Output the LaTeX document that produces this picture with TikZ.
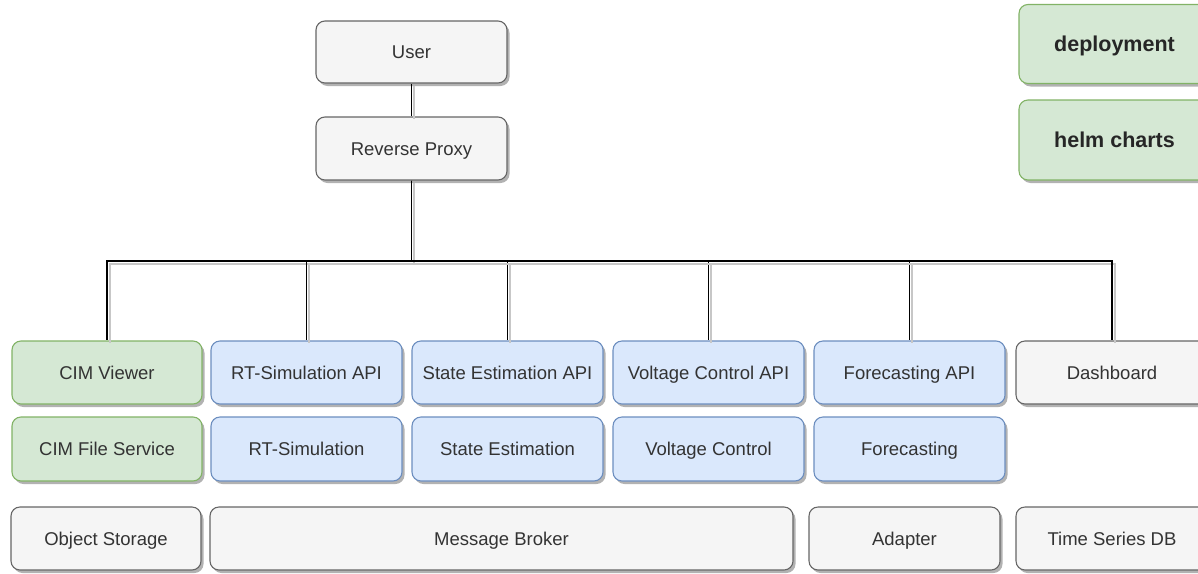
\documentclass[tikz,border=0pt]{standalone}
\usepackage{fontspec}
\setmainfont{Liberation Sans}
\usetikzlibrary{shadows}
\definecolor{grayfill}{HTML}{F5F5F5}
\definecolor{graydraw}{HTML}{666666}
\definecolor{bluefill}{HTML}{DAE8FC}
\definecolor{bluedraw}{HTML}{6C8EBF}
\definecolor{greenfill}{HTML}{D5E8D4}
\definecolor{greendraw}{HTML}{82B366}
\definecolor{txt}{HTML}{333333}
\tikzset{
  box/.style={rectangle, rounded corners=9pt, line width=1.1pt, text=txt,
    font=\fontsize{18.5}{22}\selectfont, inner sep=0pt, text height=13.3pt, text depth=0pt,
    drop shadow={shadow xshift=2.5pt, shadow yshift=-3pt, fill=black, opacity=0.3}},
  graybox/.style={box, fill=grayfill, draw=graydraw},
  bluebox/.style={box, fill=bluefill, draw=bluedraw},
  greenbox/.style={box, fill=greenfill, draw=greendraw},
  boldbox/.style={greenbox, font=\fontsize{21.5}{25}\selectfont\bfseries, text=black!85, text height=15.5pt},
  edge/.style={draw=black, line width=1.3pt,
    preaction={draw=black!22, line width=2pt, transform canvas={shift={(2.5pt,-2.5pt)}}}},
}
\begin{document}
\begin{tikzpicture}[x=1pt,y=-1pt]
\useasboundingbox (0,0) rectangle (1198,573);
\clip (0,0) rectangle (1198,573);
\fill[white] (0,0) rectangle (1198,573);
% top
\node[graybox, minimum width=191pt, minimum height=62pt] (user) at (411.5,52) {User};
\node[graybox, minimum width=191pt, minimum height=63pt] (proxy) at (411.5,148.5) {Reverse Proxy};
\node[boldbox, minimum width=191pt, minimum height=79pt] (deploy) at (1114.5,44) {deployment};
\node[boldbox, minimum width=191pt, minimum height=80pt] (helm) at (1114.5,140) {helm charts};
% row 1
\node[greenbox, minimum width=190pt, minimum height=63pt] (cimv) at (107,372.5) {CIM Viewer};
\node[bluebox, minimum width=191pt, minimum height=63pt] (rtapi) at (306.5,372.5) {RT-Simulation API};
\node[bluebox, minimum width=191pt, minimum height=63pt] (seapi) at (507.5,372.5) {State Estimation API};
\node[bluebox, minimum width=191pt, minimum height=63pt] (vcapi) at (708.5,372.5) {Voltage Control API};
\node[bluebox, minimum width=191pt, minimum height=63pt] (fcapi) at (909.5,372.5) {Forecasting API};
\node[graybox, minimum width=192pt, minimum height=63pt] (dash) at (1112,372.5) {Dashboard};
% row 2
\node[greenbox, minimum width=190pt, minimum height=64pt] (cimf) at (107,449) {CIM File Service};
\node[bluebox, minimum width=191pt, minimum height=64pt] (rt) at (306.5,449) {RT-Simulation};
\node[bluebox, minimum width=191pt, minimum height=64pt] (se) at (507.5,449) {State Estimation};
\node[bluebox, minimum width=191pt, minimum height=64pt] (vc) at (708.5,449) {Voltage Control};
\node[bluebox, minimum width=191pt, minimum height=64pt] (fc) at (909.5,449) {Forecasting};
% row 3
\node[graybox, minimum width=190pt, minimum height=63pt] (obj) at (106,538.5) {Object Storage};
\node[graybox, minimum width=583pt, minimum height=63pt] (mb) at (501.5,538.5) {Message Broker};
\node[graybox, minimum width=191pt, minimum height=63pt] (adapter) at (904.5,538.5) {Adapter};
\node[graybox, minimum width=192pt, minimum height=63pt] (tsdb) at (1112,538.5) {Time Series DB};
% connectors
\coordinate (busy) at (0,261);
\draw[edge] (user) -- (proxy);
\foreach \t in {cimv,rtapi,seapi,vcapi,fcapi,dash}{
  \draw[edge] (proxy.south) -- (proxy.south |- busy) -| (\t.north);
}
\end{tikzpicture}
\end{document}
